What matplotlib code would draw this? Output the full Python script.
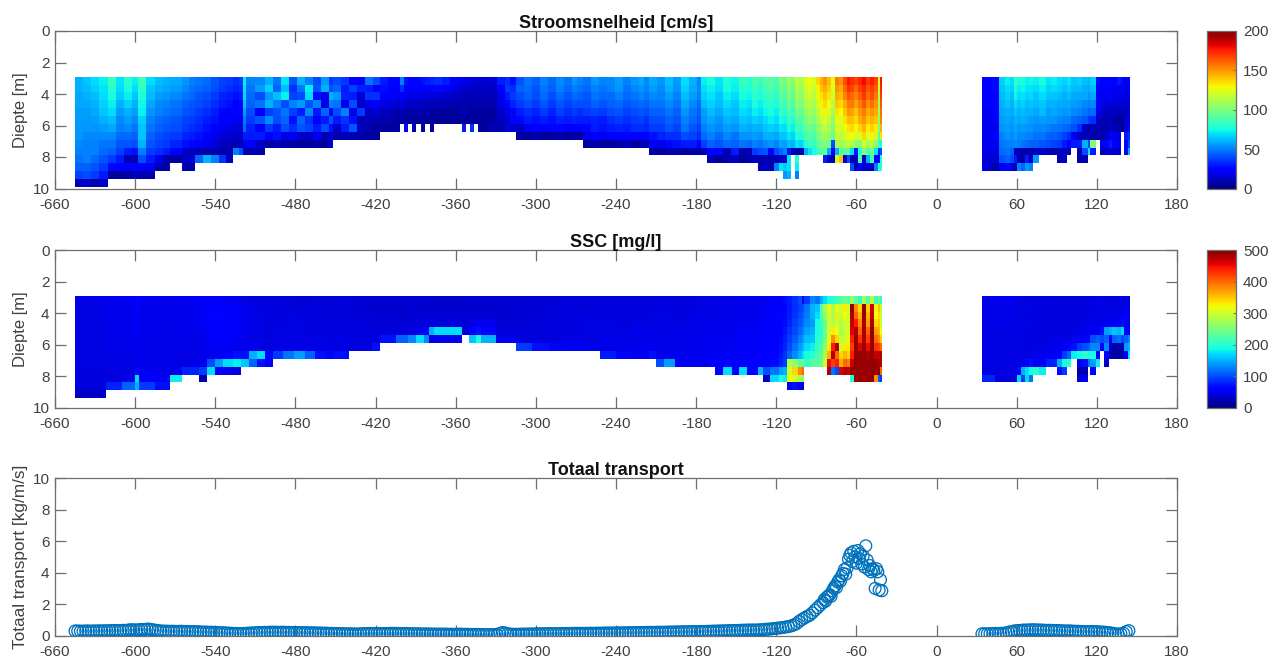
import numpy as np
import matplotlib
matplotlib.use("Agg")
import matplotlib.pyplot as plt

# depth bin edges (0.5 m bins starting at 2.9 m)
depth_edges = [2.9, 3.4, 3.9, 4.4, 4.9, 5.4, 5.9, 6.4, 6.9, 7.4, 7.9, 8.4, 8.9, 9.4, 9.9]

# speed [cm/s], one list per column from the surface down, list length gives the bed
speed_x = [-645, -639, -633, -627,
           -620, -614, -608, -602, -598, -592,
           -585, -579, -574, -565, -560,
           -555, -549, -543, -537, -532,
           -527, -522, -519, -517, -510,
           -503, -497, -491, -485, -479, -473, -467, -461, -455,
           -452, -446, -440, -434, -428, -422,
           -417, -411, -405, -402, -399, -396, -393, -390, -386, -383, -379,
           -376, -370, -364, -358,
           -355, -352, -349, -346, -343,
           -341, -335, -329, -323, -319,
           -315, -309, -303, -297, -291, -285, -279, -273, -269,
           -265, -259, -253, -247, -241, -235, -229, -223, -219,
           -215, -209, -203, -197, -191, -185, -179, -176,
           -172, -166, -160, -154, -148, -142, -138,
           -134, -130, -126, -122, -118,
           -115, -112, -109, -106, -103,
           -101, -99, -96, -93, -90, -87,
           -85, -82, -79, -76, -73, -70, -67,
           -65, -62, -59, -56, -53, -50, -47, -44, -42.5,
           -41, 34, 41,
           47, 51, 55, 58, 60, 63, 66, 69,
           72, 77, 82, 86, 90, 94, 98, 101, 105, 109, 113,
           115, 119, 122, 125, 129, 131, 135, 138, 140, 143, 145]
speed_cols = [
    [60, 60, 58, 58, 56, 56, 55, 55, 52, 50, 48, 44, 38, 10],
    [64, 62, 60, 58, 56, 55, 55, 52, 50, 50, 50, 44, 40, 14],
    [68, 66, 62, 60, 58, 56, 54, 52, 50, 50, 46, 42, 36, 8],
    [72, 70, 68, 66, 64, 60, 56, 52, 48, 46, 42, 36, 30, 12],
    [85, 80, 76, 72, 68, 62, 58, 52, 48, 44, 36, 26, 6],
    [70, 68, 65, 60, 56, 52, 50, 46, 42, 38, 30, 24, 6],
    [80, 76, 72, 66, 60, 56, 52, 46, 42, 30, 10, 22, 6],
    [72, 68, 64, 60, 56, 52, 48, 44, 40, 28, 8, 24, 10],
    [85, 82, 78, 74, 72, 66, 64, 64, 60, 50, 40, 22, 8],
    [68, 64, 62, 58, 54, 50, 48, 44, 42, 36, 30, 20, 8],
    [62, 60, 56, 52, 50, 46, 44, 40, 38, 34, 20, 8],
    [60, 58, 54, 50, 48, 44, 42, 38, 36, 30, 8, 8],
    [58, 56, 52, 48, 46, 42, 40, 36, 32, 24, 6],
    [54, 52, 48, 44, 42, 38, 36, 32, 28, 14, 12, 8],
    [50, 48, 46, 42, 40, 36, 34, 30, 26, 12, 14, 10],
    [48, 46, 42, 40, 36, 34, 32, 28, 24, 10, 45],
    [46, 44, 40, 38, 34, 30, 28, 24, 20, 8, 60],
    [42, 40, 36, 34, 30, 28, 24, 20, 16, 8, 50],
    [38, 36, 32, 30, 26, 24, 20, 16, 12, 8, 35],
    [36, 34, 30, 28, 24, 22, 18, 14, 10, 8, 12],
    [34, 32, 28, 24, 22, 20, 16, 14, 10, 50],
    [36, 34, 30, 26, 22, 20, 16, 14, 10, 40],
    [72, 70, 68, 62, 56, 50, 46, 30, 18, 10],
    [50, 48, 46, 44, 40, 36, 32, 30, 22, 8],
    [52, 56, 40, 48, 22, 42, 24, 30, 14, 8],
    [60, 66, 55, 60, 38, 52, 36, 24, 8],
    [48, 45, 62, 50, 42, 40, 30, 28, 10],
    [70, 62, 72, 40, 48, 45, 40, 18, 8],
    [42, 35, 38, 50, 38, 28, 34, 20, 8],
    [60, 48, 40, 55, 30, 45, 42, 14, 6],
    [50, 72, 68, 42, 52, 35, 38, 12, 6],
    [40, 42, 28, 50, 30, 22, 30, 20, 8],
    [55, 60, 20, 18, 45, 30, 40, 10, 6],
    [36, 40, 60, 50, 26, 42, 28, 16, 14],
    [40, 45, 55, 48, 40, 30, 14, 8],
    [36, 30, 32, 18, 50, 35, 30, 10],
    [25, 38, 30, 40, 20, 28, 42, 10],
    [22, 32, 15, 12, 36, 10, 12, 8],
    [48, 30, 35, 20, 12, 10, 8, 6],
    [40, 25, 35, 25, 15, 10, 6, 6],
    [30, 28, 24, 18, 12, 8, 6],
    [26, 24, 22, 16, 10, 8, 6],
    [25, 22, 20, 14, 8, 6, 6],
    [50, 34, 24, 16, 10, 8],
    [28, 24, 20, 14, 8, 6, 25],
    [26, 22, 18, 12, 8, 6],
    [24, 22, 18, 12, 8, 6, 8],
    [26, 22, 18, 12, 8, 6],
    [28, 24, 18, 12, 8, 6, 8],
    [30, 24, 16, 10, 8, 5],
    [32, 24, 16, 10, 6, 5, 6],
    [34, 26, 16, 10, 6, 5],
    [30, 22, 14, 10, 6, 5],
    [24, 18, 12, 8, 6, 5],
    [20, 16, 12, 8, 6, 5],
    [18, 14, 10, 8, 12, 6, 30],
    [18, 14, 10, 8, 6, 5],
    [16, 14, 10, 8, 6, 8, 35],
    [16, 12, 10, 8, 6, 5],
    [14, 12, 10, 8, 6, 6, 6],
    [14, 12, 10, 8, 6, 6, 6],
    [16, 12, 10, 8, 6, 6, 10],
    [30, 24, 20, 18, 14, 12, 8],
    [34, 36, 30, 24, 20, 14, 16],
    [28, 34, 36, 32, 26, 22, 14],
    [42, 44, 40, 36, 30, 26, 12, 6],
    [48, 46, 44, 40, 34, 30, 20, 6],
    [44, 42, 40, 36, 32, 28, 22, 8],
    [50, 48, 46, 42, 36, 30, 24, 6],
    [46, 44, 40, 36, 32, 28, 26, 6],
    [52, 50, 46, 42, 38, 32, 26, 8],
    [48, 46, 42, 38, 34, 30, 22, 6],
    [54, 50, 46, 42, 36, 32, 24, 8],
    [50, 48, 44, 40, 34, 30, 22, 6],
    [48, 46, 42, 40, 36, 30, 26, 20, 6],
    [54, 50, 48, 44, 38, 32, 30, 24, 8],
    [50, 48, 46, 42, 36, 30, 28, 20, 6],
    [52, 50, 46, 44, 40, 34, 30, 22, 6],
    [56, 54, 50, 46, 42, 36, 32, 24, 8],
    [50, 48, 46, 42, 38, 34, 30, 26, 10],
    [54, 52, 48, 44, 40, 36, 34, 24, 6],
    [58, 54, 52, 46, 42, 38, 34, 26, 10],
    [52, 50, 48, 44, 40, 34, 32, 26, 8],
    [58, 56, 52, 48, 44, 40, 36, 28, 22, 8],
    [54, 52, 50, 48, 44, 40, 36, 32, 18, 6],
    [62, 60, 56, 52, 48, 44, 42, 34, 26, 10],
    [56, 54, 50, 48, 44, 42, 38, 34, 28, 8],
    [68, 66, 62, 58, 54, 50, 48, 40, 30, 6],
    [60, 58, 56, 52, 48, 46, 42, 38, 30, 8],
    [50, 52, 50, 46, 44, 42, 38, 34, 22, 6],
    [72, 68, 66, 62, 56, 54, 50, 46, 38, 12],
    [76, 72, 70, 66, 62, 58, 54, 50, 44, 25, 10],
    [70, 68, 64, 62, 58, 54, 52, 46, 42, 26, 6],
    [78, 76, 72, 68, 64, 60, 56, 52, 46, 10, 8],
    [74, 72, 68, 64, 62, 58, 54, 48, 44, 30, 12],
    [84, 80, 76, 72, 68, 64, 60, 54, 48, 8, 6],
    [80, 78, 74, 70, 66, 62, 58, 54, 46, 10, 10],
    [88, 84, 80, 76, 72, 66, 60, 56, 50, 36, 10],
    [84, 80, 78, 72, 68, 64, 60, 54, 48, 40, 8, 8],
    [90, 86, 82, 78, 74, 68, 64, 60, 52, 42, 10, 14],
    [92, 90, 84, 80, 76, 72, 66, 60, 54, 26, 8, 8],
    [86, 84, 80, 76, 72, 68, 64, 58, 50, 40, 10, 50],
    [102, 98, 94, 88, 84, 76, 70, 64, 58, 46, 12, 70],
    [96, 92, 90, 84, 78, 74, 68, 64, 56, 50, 14, 65, 55],
    [108, 104, 100, 96, 90, 84, 76, 70, 62, 30, 70, 70, 60],
    [100, 96, 92, 88, 82, 78, 72, 66, 60, 10],
    [116, 112, 108, 104, 98, 92, 86, 78, 70, 8, 80, 72, 50],
    [112, 108, 104, 100, 94, 88, 82, 76, 66, 10],
    [110, 108, 104, 100, 96, 92, 86, 80, 70, 10],
    [124, 120, 116, 112, 106, 100, 94, 88, 80, 60],
    [128, 124, 120, 114, 108, 104, 96, 90, 84, 70],
    [122, 118, 114, 110, 106, 100, 94, 88, 82, 76],
    [136, 130, 126, 122, 116, 110, 104, 98, 92, 84],
    [144, 140, 134, 130, 124, 118, 110, 104, 98, 90],
    [150, 146, 140, 136, 130, 122, 116, 108, 102, 94, 30],
    [142, 138, 134, 128, 122, 116, 110, 104, 98, 60, 14],
    [126, 122, 118, 114, 110, 104, 100, 94, 40, 24, 8],
    [156, 150, 146, 140, 134, 128, 124, 118, 110, 60, 120],
    [150, 146, 142, 136, 128, 122, 118, 114, 108, 92, 140],
    [166, 160, 154, 146, 140, 134, 128, 120, 112, 90, 14],
    [178, 172, 164, 156, 150, 142, 134, 126, 116, 92, 40],
    [172, 168, 160, 156, 148, 142, 136, 128, 114, 70, 10, 40],
    [168, 160, 154, 148, 140, 136, 130, 120, 104, 30, 12, 10],
    [174, 168, 162, 156, 150, 146, 136, 122, 100, 80, 90, 25],
    [180, 174, 170, 164, 156, 150, 144, 136, 120, 100, 14, 16],
    [170, 164, 158, 152, 146, 140, 132, 124, 110, 90, 60, 12],
    [176, 170, 166, 158, 150, 144, 138, 130, 116, 96, 85, 14],
    [168, 162, 156, 150, 146, 140, 132, 120, 100, 70, 24, 50],
    [120, 116, 112, 110, 108, 104, 100, 92, 85, 35, 20, 80],
    [178, 174, 170, 164, 158, 154, 146, 134, 76, 40, 75, 80],
    [],
    [24, 24, 22, 22, 20, 20, 20, 20, 18, 18, 16, 16],
    [26, 26, 24, 24, 22, 22, 20, 22, 20, 18, 14, 8],
    [66, 64, 62, 60, 58, 56, 54, 50, 48, 46, 40, 24],
    [72, 68, 66, 64, 60, 58, 56, 54, 50, 48, 44, 26],
    [68, 66, 62, 60, 58, 56, 54, 52, 50, 44, 40, 16],
    [84, 78, 74, 68, 64, 60, 58, 56, 52, 12, 30, 10],
    [76, 72, 68, 64, 60, 58, 54, 52, 50, 8, 8, 50],
    [78, 74, 70, 66, 62, 60, 56, 52, 48, 10, 8, 45],
    [72, 70, 66, 62, 60, 58, 54, 50, 46, 8, 30, 55],
    [74, 70, 68, 64, 60, 56, 54, 50, 44, 8, 10, 50],
    [72, 68, 64, 62, 58, 54, 52, 48, 44, 10, 55],
    [76, 72, 68, 64, 62, 56, 52, 48, 42, 12],
    [70, 66, 64, 60, 56, 54, 50, 44, 40, 10],
    [72, 68, 64, 60, 58, 54, 48, 44, 38, 8],
    [68, 66, 62, 58, 56, 52, 48, 42, 36, 10, 10],
    [66, 64, 60, 58, 54, 50, 46, 38, 30, 12, 14],
    [70, 66, 62, 58, 56, 50, 44, 34, 24, 10],
    [64, 62, 58, 56, 52, 46, 40, 20, 30],
    [66, 62, 58, 54, 50, 44, 34, 12, 30, 10, 10],
    [62, 60, 58, 52, 48, 42, 12, 10, 60, 40, 8],
    [60, 58, 54, 50, 44, 36, 10, 8, 40, 70],
    [66, 62, 58, 52, 46, 34, 10, 8, 100, 30],
    [28, 26, 24, 22, 20, 14, 10, 8],
    [24, 22, 20, 18, 14, 10, 8, 8, 20, 10],
    [22, 22, 20, 16, 12, 10, 8, 12, 26, 14],
    [26, 24, 22, 18, 14, 10, 14, 24, 30, 16],
    [22, 20, 18, 16, 12, 8, 10, 20, 24, 14],
    [30, 24, 20, 16, 10, 6, 10, 16, 20, 12],
    [26, 22, 18, 14, 10, 6, 4],
    [20, 18, 16, 14, 12, 14, 16, 30, 26, 20],
    [24, 22, 20, 16, 14, 18, 26, 34, 40, 60],
]

# SSC [mg/l], same layout as the speed columns
ssc_x = [-645, -625, -622,
         -610, -600, -597, -585,
         -574, -565, -552, -546, -540, -534, -527,
         -521, -515, -509, -503,
         -497, -489, -481, -473, -465, -457, -452,
         -440, -430, -423, -417,
         -405, -396, -390, -384, -380, -376,
         -355, -350, -345, -341, -330,
         -315, -303, -290, -278, -265,
         -252, -240, -228, -215,
         -210, -204, -196, -184, -172,
         -166, -160, -153, -148, -142, -134,
         -130, -125, -118, -115, -112, -108, -104, -101,
         -99, -95, -91, -87, -85,
         -82, -79, -76, -73, -70, -67,
         -65, -62, -59, -56, -53, -50, -47, -44, -42.5,
         -41, 34, 44,
         60, 63, 66, 69, 72,
         77, 82, 90, 94, 98, 101,
         105, 109, 113, 115, 119, 122, 125, 129, 131, 135, 138, 140, 143, 145]
ssc_cols = [
    [46, 44, 44, 44, 44, 44, 44, 44, 44, 42, 42, 42, 30],
    [48, 46, 46, 46, 44, 44, 44, 44, 44, 42, 42, 40, 30],
    [50, 48, 48, 48, 48, 46, 46, 44, 44, 44, 42, 80],
    [50, 48, 48, 48, 48, 46, 46, 46, 44, 44, 48, 110],
    [58, 56, 54, 54, 54, 52, 50, 50, 48, 60, 170, 150],
    [50, 50, 48, 48, 48, 48, 46, 46, 46, 50, 60, 90],
    [48, 48, 48, 46, 46, 46, 46, 46, 46, 48, 50, 70],
    [48, 46, 48, 48, 46, 46, 46, 46, 46, 48, 180],
    [50, 48, 50, 50, 48, 46, 46, 44, 46, 80],
    [52, 54, 54, 52, 50, 48, 46, 46, 50, 90, 20],
    [54, 62, 64, 62, 58, 54, 52, 48, 100, 170],
    [54, 60, 64, 62, 60, 54, 52, 52, 140, 60],
    [50, 58, 62, 62, 58, 54, 50, 60, 170, 50],
    [48, 54, 58, 58, 54, 50, 48, 70, 180, 40],
    [44, 48, 50, 50, 48, 48, 48, 70, 160],
    [42, 46, 46, 46, 46, 44, 48, 150, 110],
    [40, 42, 44, 44, 44, 44, 46, 170, 70],
    [40, 42, 42, 42, 42, 42, 42, 60, 60],
    [40, 42, 42, 42, 44, 44, 46, 90],
    [40, 42, 44, 44, 44, 44, 46, 120],
    [38, 40, 42, 44, 44, 44, 46, 140],
    [38, 40, 42, 42, 42, 44, 46, 110],
    [40, 40, 42, 42, 42, 44, 46, 70],
    [38, 40, 40, 40, 42, 42, 44, 60],
    [40, 40, 42, 42, 42, 44, 44, 70],
    [38, 38, 40, 40, 42, 42, 42],
    [38, 38, 38, 40, 40, 40, 46],
    [36, 36, 38, 38, 40, 42, 70],
    [36, 36, 38, 38, 40, 70],
    [36, 36, 36, 38, 40, 110],
    [36, 38, 38, 38, 44, 130],
    [36, 36, 36, 40, 50, 170],
    [36, 36, 38, 40, 54, 130],
    [36, 36, 38, 44, 150, 40],
    [34, 36, 38, 40, 170, 50],
    [36, 36, 38, 38, 40],
    [36, 36, 38, 44, 60, 160],
    [36, 36, 38, 52, 70, 190],
    [36, 36, 36, 48, 60, 150],
    [36, 36, 36, 38, 40, 50],
    [38, 38, 38, 38, 40, 42, 90],
    [38, 38, 40, 40, 40, 42, 70],
    [38, 40, 40, 42, 42, 42, 60],
    [40, 40, 42, 42, 42, 44, 54],
    [40, 40, 42, 44, 44, 44, 50],
    [40, 42, 42, 44, 44, 46, 46, 75],
    [40, 40, 42, 42, 44, 46, 46, 62],
    [40, 42, 42, 44, 46, 46, 48, 52],
    [42, 42, 44, 44, 46, 46, 48, 70],
    [42, 42, 44, 44, 44, 46, 46, 48, 100],
    [42, 42, 44, 44, 46, 46, 48, 50, 140],
    [40, 42, 42, 44, 46, 46, 48, 48, 54],
    [44, 44, 46, 46, 46, 48, 48, 50, 50],
    [44, 44, 46, 46, 48, 48, 50, 50, 60],
    [46, 46, 46, 48, 48, 50, 50, 52, 52, 60],
    [44, 46, 48, 48, 48, 50, 50, 52, 60, 170],
    [46, 46, 48, 48, 50, 50, 52, 52, 54, 55],
    [48, 48, 50, 50, 52, 52, 52, 54, 54, 170],
    [46, 48, 48, 50, 52, 52, 54, 54, 56, 60],
    [48, 50, 50, 52, 52, 54, 56, 56, 58, 150],
    [50, 52, 52, 54, 54, 56, 58, 58, 60, 100, 30],
    [54, 54, 56, 56, 58, 60, 62, 64, 68, 120, 170],
    [58, 58, 60, 62, 64, 66, 70, 74, 80, 140, 190],
    [68, 64, 66, 68, 72, 76, 80, 86, 92, 150, 180],
    [76, 74, 76, 80, 86, 92, 98, 112, 280, 300, 320, 60],
    [86, 84, 88, 92, 98, 106, 118, 132, 260, 340, 300, 70],
    [98, 94, 100, 106, 114, 126, 138, 152, 230, 380, 280, 60],
    [60, 100, 108, 114, 124, 136, 150, 170, 240, 400, 250, 50],
    [90, 120, 124, 130, 142, 156, 170, 190, 210],
    [130, 150, 150, 140, 150, 160, 180, 200, 230],
    [120, 160, 170, 190, 190, 200, 210, 220, 230],
    [150, 230, 220, 210, 200, 210, 220, 230, 240],
    [170, 270, 260, 240, 240, 240, 260, 280, 300],
    [190, 320, 310, 300, 300, 310, 330, 360, 450, 480],
    [200, 280, 270, 280, 330, 380, 440, 480, 420, 120],
    [210, 310, 330, 300, 320, 340, 480, 400, 440, 100],
    [230, 300, 290, 280, 270, 290, 300, 340, 360, 460],
    [240, 330, 320, 300, 300, 300, 330, 360, 400, 480],
    [230, 300, 300, 300, 300, 310, 330, 340, 390, 470],
    [260, 490, 480, 470, 460, 440, 420, 440, 470, 490, 200],
    [230, 380, 400, 440, 480, 490, 490, 490, 490, 490, 490],
    [200, 340, 360, 380, 400, 430, 460, 490, 490, 490, 490],
    [280, 490, 490, 480, 480, 480, 490, 490, 490, 490, 480],
    [220, 340, 360, 370, 400, 420, 450, 480, 490, 490, 490],
    [290, 460, 470, 480, 490, 490, 490, 490, 490, 490, 490],
    [210, 310, 320, 340, 370, 400, 430, 470, 490, 490, 380],
    [240, 350, 340, 350, 360, 380, 420, 470, 480, 490, 110],
    [200, 290, 300, 300, 320, 340, 400, 480, 480, 400, 90],
    [],
    [48, 46, 46, 44, 44, 44, 44, 44, 44, 42, 80],
    [50, 48, 46, 46, 44, 44, 44, 44, 44, 44, 42],
    [44, 44, 44, 44, 44, 44, 44, 44, 50, 60, 170],
    [44, 44, 44, 44, 44, 44, 44, 44, 48, 150, 90],
    [42, 44, 44, 44, 44, 42, 42, 44, 60, 170, 170],
    [42, 44, 42, 44, 42, 42, 42, 44, 70, 190, 120],
    [42, 42, 42, 42, 42, 42, 44, 48, 52, 200],
    [42, 42, 42, 42, 42, 42, 44, 50, 60, 180],
    [42, 42, 42, 42, 42, 44, 46, 52, 80],
    [42, 42, 42, 42, 42, 44, 48, 60, 150, 70],
    [42, 42, 42, 42, 42, 44, 52, 90, 190, 90],
    [40, 42, 42, 42, 42, 44, 60, 110, 200],
    [40, 42, 42, 42, 44, 48, 70, 180],
    [40, 40, 42, 42, 44, 52, 90, 190, 60, 20, 40],
    [40, 42, 42, 44, 46, 56, 100, 200, 70, 20, 50],
    [42, 42, 44, 44, 48, 60, 110, 190, 120],
    [44, 44, 46, 48, 50, 100, 130, 190, 140, 60],
    [46, 46, 44, 46, 48, 110, 130, 60, 180],
    [46, 46, 46, 48, 70, 100, 60],
    [44, 44, 46, 50, 140, 110, 130, 60, 30],
    [42, 44, 46, 52, 150, 60, 30, 20],
    [42, 44, 46, 52, 160, 110, 20, 20],
    [44, 44, 48, 60, 150, 120, 16, 14],
    [44, 44, 50, 70, 170, 100, 20, 16],
    [44, 46, 52, 52, 60, 110, 140, 60],
    [42, 44, 48, 52, 60, 130, 150, 170],
]

# total transport [kg/m/s]
transport_x = [-645, -643, -641, -639, -637, -635, -633, -631, -629, -627, -625, -623, -621, -619, -617, -615,
               -613, -611, -609, -607, -605, -603, -601, -599, -597, -595, -593, -591, -589, -587, -585, -583,
               -581, -579, -577, -575, -573, -571, -569, -567, -565, -563, -561, -559, -557, -555, -553, -551,
               -549, -547, -545, -543, -541, -539, -537, -535, -533, -531, -529, -527, -525, -523, -521, -519,
               -517, -515, -513, -511, -509, -507, -505, -503, -501, -499, -497, -495, -493, -491, -489, -487,
               -485, -483, -481, -479, -477, -475, -473, -471, -469, -467, -465, -463, -461, -459, -457, -455,
               -453, -451, -449, -447, -445, -443, -441, -439, -437, -435, -433, -431, -429, -427, -425, -423,
               -421, -419, -417, -415, -413, -411, -409, -407, -405, -403, -401, -399, -397, -395, -393, -391,
               -389, -387, -385, -383, -381, -379, -377, -375, -373, -371, -369, -367, -365, -363, -361, -359,
               -357, -355, -353, -351, -349, -347, -345, -343, -341, -339, -337, -335, -333, -331, -329, -327,
               -325, -323, -321, -319, -317, -315, -313, -311, -309, -307, -305, -303, -301, -299, -297, -295,
               -293, -291, -289, -287, -285, -283, -281, -279, -277, -275, -273, -271, -269, -267, -265, -263,
               -261, -259, -257, -255, -253, -251, -249, -247, -245, -243, -241, -239, -237, -235, -233, -231,
               -229, -227, -225, -223, -221, -219, -217, -215, -213, -211, -209, -207, -205, -203, -201, -199,
               -197, -195, -193, -191, -189, -187, -185, -183, -181, -179, -177, -175, -173, -171, -169, -167,
               -165, -163, -161, -159, -157, -155, -153, -151, -149, -147, -145, -143, -141, -139, -137, -135,
               -133, -131, -129, -127, -125, -123, -121, -119, -117, -115, -113, -111, -109, -107, -105,
               -103, -101, -99, -97, -95, -93, -91, -89, -87, -85, -84, -83, -82, -81, -80, -79, -78, -77,
               -76, -75, -74, -73, -72, -71, -70, -69, -68, -67, -66, -65, -64, -63, -62, -61, -60, -59,
               -58, -57, -56, -55, -54, -53, -52, -51, -50, -49, -48, -47, -46, -45, -44, -43, -42, -41,
               34, 36, 38, 40, 42, 44, 46, 48, 50, 52, 54, 56, 58, 60, 62, 64, 66, 68, 70, 72,
               74, 76, 78, 80, 82, 84, 86, 88, 90, 92, 94, 96, 98, 100, 102, 104, 106, 108, 110, 112,
               114, 116, 118, 120, 122, 124, 126, 128, 130, 132, 134, 136, 138, 140, 142, 144]
transport_y = [.30, .30, .29, .29, .30, .30, .29, .30, .30, .31, .30, .31, .31, .32, .32, .33,
               .32, .33, .34, .34, .36, .38, .37, .36, .38, .40, .39, .42, .41, .38, .35, .33,
               .30, .29, .29, .28, .28, .28, .27, .28, .28, .27, .27, .26, .26, .25, .25, .24,
               .23, .23, .22, .22, .21, .20, .19, .19, .18, .17, .16, .15, .14, .13, .13, .14,
               .15, .16, .17, .18, .19, .20, .20, .21, .21, .22, .22, .22, .21, .22, .22, .21,
               .21, .20, .20, .20, .20, .19, .19, .19, .18, .18, .18, .17, .17, .16, .16, .15,
               .15, .14, .14, .13, .13, .12, .12, .12, .11, .11, .11, .12, .13, .13, .14, .14,
               .14, .14, .14, .13, .14, .14, .15, .15, .15, .14, .14, .14, .13, .13, .13, .12,
               .12, .12, .11, .11, .11, .11, .10, .10, .10, .10, .10, .10, .09, .09, .09, .09,
               .10, .09, .09, .09, .08, .08, .08, .08, .07, .07, .07, .06, .07, .07, .08, .14,
               .20, .17, .12, .10, .09, .09, .09, .10, .10, .10, .11, .11, .11, .12, .12, .12,
               .12, .13, .13, .13, .13, .13, .14, .14, .14, .14, .15, .15, .15, .15, .15, .15,
               .15, .16, .15, .16, .16, .16, .17, .17, .17, .17, .17, .18, .18, .18, .18, .19,
               .19, .19, .20, .20, .20, .20, .21, .21, .21, .21, .22, .22, .22, .22, .23, .23,
               .23, .24, .24, .24, .25, .25, .25, .26, .26, .26, .27, .27, .27, .28, .28, .29,
               .29, .30, .30, .31, .31, .32, .32, .33, .33, .34, .35, .35, .36, .36, .36, .36,
               .37, .38, .40, .41, .42, .44, .46, .48, .50, .52, .55, .58, .62, .68, .76,
               .90, 1.02, 1.12, 1.22, 1.30, 1.45, 1.62, 1.78, 1.95, 2.10, 2.30, 2.20, 2.45, 2.52, 2.60, 2.50, 2.85, 3.00,
               3.15, 3.05, 3.40, 3.55, 3.45, 3.80, 3.95, 4.20, 3.90, 4.30, 4.85, 5.10, 5.25, 4.70, 5.35, 5.00, 4.60, 5.40,
               4.90, 5.20, 4.55, 5.05, 4.35, 5.70, 4.80, 4.20, 4.45, 4.05, 4.25, 4.15, 3.00, 4.25, 4.05, 2.90, 3.55, 2.85,
               .12, .12, .12, .13, .13, .14, .14, .15, .15, .18, .22, .26, .30, .32, .33, .35, .36, .36, .37, .38,
               .37, .36, .36, .35, .34, .34, .34, .33, .33, .32, .31, .30, .30, .30, .29, .28, .28, .27, .26, .26,
               .26, .27, .26, .25, .24, .23, .22, .20, .18, .15, .12, .10, .12, .16, .26, .32]

x_ticks = [-660, -600, -540, -480, -420, -360, -300, -240, -180, -120, -60, 0, 60, 120, 180]
y_ticks = [0, 2, 4, 6, 8, 10]
speed_cbar_ticks = [0, 50, 100, 150, 200]
ssc_cbar_ticks = [0, 100, 200, 300, 400, 500]

TEXT = "#404040"
EDGE = "#6e6e6e"
W, H = 1271, 660

plt.rcParams["font.family"] = ["Liberation Sans", "DejaVu Sans"]
plt.rcParams["font.size"] = 11
plt.rcParams["axes.unicode_minus"] = False


def pixel_axes(fig, left, top, right, bottom):
    return fig.add_axes([left / W, 1 - bottom / H, (right - left) / W, (bottom - top) / H])


def to_grid(cols):
    grid = np.full((len(depth_edges) - 1, len(cols)), np.nan)
    for j, col in enumerate(cols):
        grid[:len(col), j] = col
    return np.ma.masked_invalid(grid)


def style_axes(ax):
    ax.set_xlim(-660, 180)
    ax.set_xticks(x_ticks)
    ax.set_yticks(y_ticks)
    ax.tick_params(direction="in", length=8, width=0.9, color=EDGE, labelcolor=TEXT,
                   top=True, right=True, pad=4)
    ax.tick_params(axis="x", pad=7)
    for spine in ax.spines.values():
        spine.set_color(EDGE)
        spine.set_linewidth(0.9)


def add_heatmap(fig, top, bottom, x, cols, vmax, cbar_ticks, title):
    ax = pixel_axes(fig, 55, top, 1177, bottom)
    mesh = ax.pcolormesh(x, depth_edges, to_grid(cols), cmap="jet", vmin=0, vmax=vmax,
                         shading="flat", antialiased=False, rasterized=True)
    style_axes(ax)
    ax.set_ylim(10, 0)
    ax.set_ylabel("Diepte [m]", color=TEXT, labelpad=3, fontsize=12)
    ax.set_title(title, fontweight="bold", fontsize=13, color="#111111", pad=2)
    cax = pixel_axes(fig, 1207, top, 1236, bottom)
    cbar = fig.colorbar(mesh, cax=cax)
    cbar.set_ticks(cbar_ticks)
    cbar.ax.tick_params(direction="in", length=2.5, width=0.7, color=EDGE, labelcolor=TEXT, pad=5)
    cbar.outline.set_edgecolor(EDGE)
    cbar.outline.set_linewidth(0.9)
    return ax


fig = plt.figure(figsize=(W / 100, H / 100), dpi=100)

add_heatmap(fig, 31, 188.5, speed_x, speed_cols, 200, speed_cbar_ticks, "Stroomsnelheid [cm/s]")
add_heatmap(fig, 250, 407.7, ssc_x, ssc_cols, 500, ssc_cbar_ticks, "SSC [mg/l]")

ax3 = pixel_axes(fig, 55, 478, 1177, 635.7)
ax3.scatter(transport_x, transport_y, s=72, facecolors="none", edgecolors="#0072BD",
            linewidths=0.95, zorder=3)
style_axes(ax3)
ax3.set_ylim(0, 10)
ax3.set_ylabel("Totaal transport [kg/m/s]", color=TEXT, labelpad=3, fontsize=12.4)
ax3.set_title("Totaal transport", fontweight="bold", fontsize=13, color="#111111", pad=2)

fig.savefig("out.png", dpi=100)
